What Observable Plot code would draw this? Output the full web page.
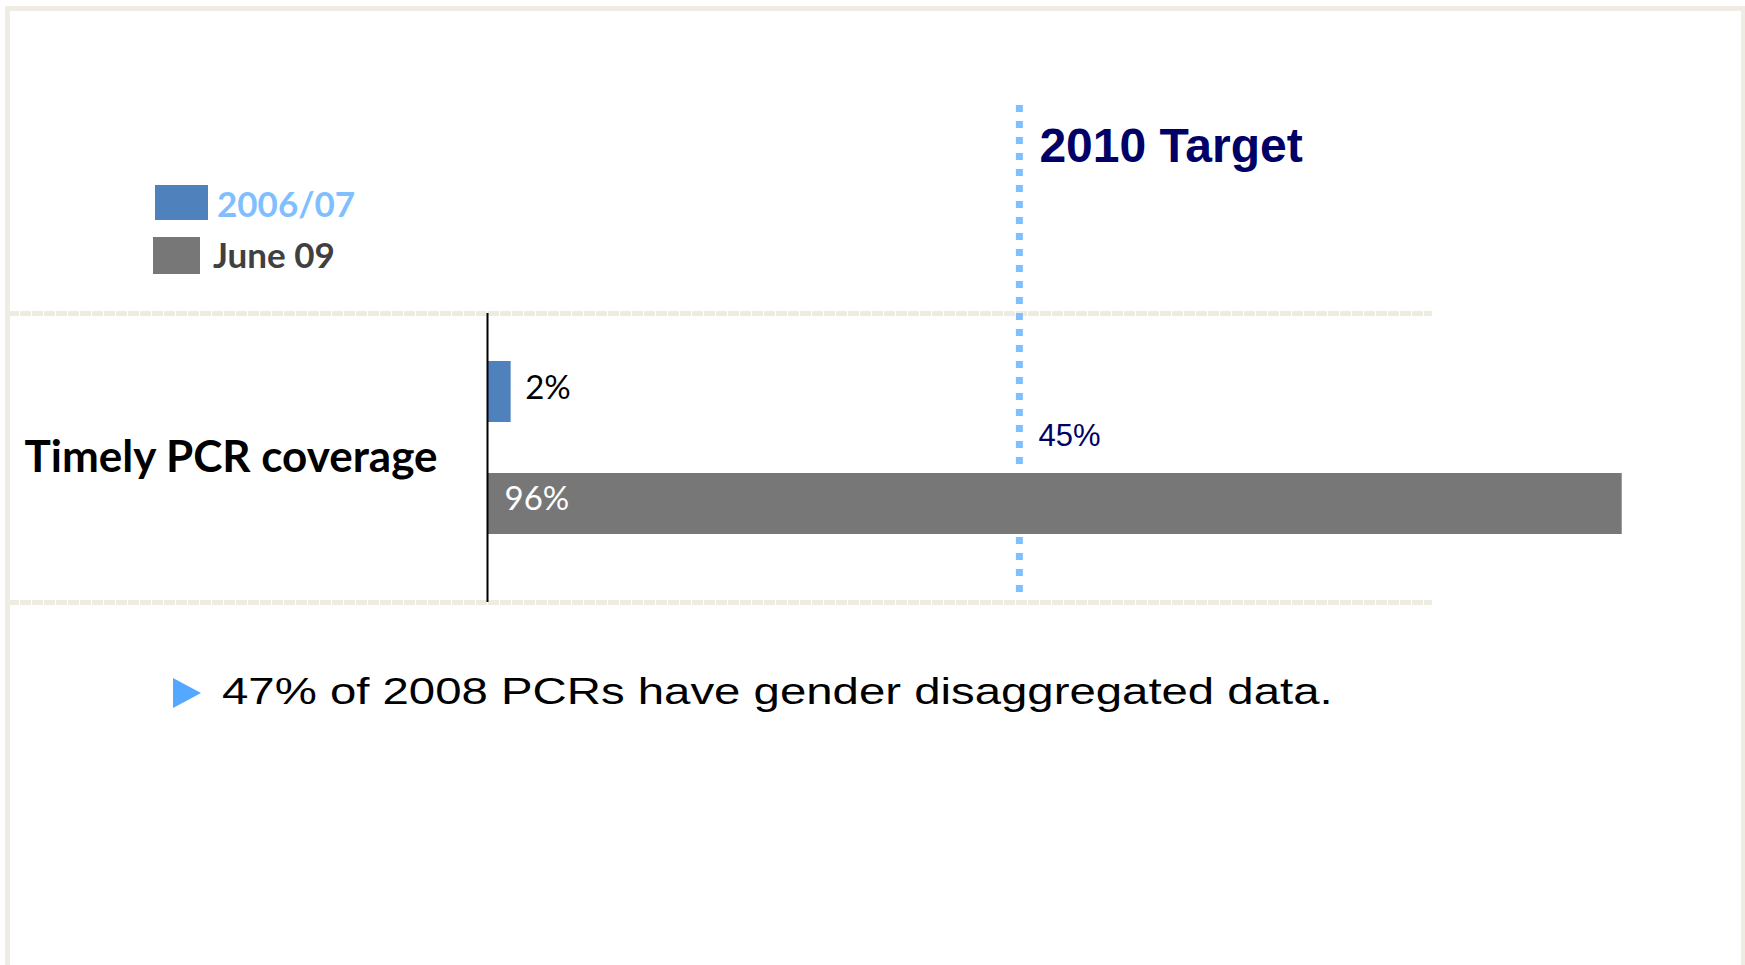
<!DOCTYPE html>
<html>
<head>
<meta charset="utf-8">
<script src="https://cdn.jsdelivr.net/npm/d3@7"></script>
<script src="https://cdn.jsdelivr.net/npm/@observablehq/plot@0.6"></script>
<style>
  html, body { margin: 0; padding: 0; background: #ffffff; }
  body { width: 1745px; height: 965px; overflow: hidden; position: relative; }
  #chart { position: absolute; left: 0; top: 0; }
  #chart svg { background: transparent; max-width: none; }
  .border { position: absolute; left: 5px; top: 6px; width: 1731px; height: 1000px;
            border: 5px solid #efece3; border-right-width: 4px; pointer-events: none; }
  .swatch { position: absolute; }
  .legtext { position: absolute; font-family: Lato, sans-serif; font-weight: 700;
             font-size: 35px; line-height: 35px; white-space: nowrap; }
  .note { position: absolute; left: 222px; top: 674px; font-family: "Liberation Sans", Arial, sans-serif;
          font-size: 36px; line-height: 36px; white-space: nowrap; color: #000;
          transform: scaleX(1.315); transform-origin: left center; }
  .tri { position: absolute; left: 173px; top: 678px; width: 0; height: 0;
         border-left: 28px solid #55a8ff; border-top: 15px solid transparent; border-bottom: 15px solid transparent; }
</style>
</head>
<body>
<div id="chart"></div>
<div class="border"></div>
<div id="legend"></div>
<div class="tri"></div>
<div class="note" id="note"></div>
<script>
// ---- data ----
const categories = ["Timely PCR coverage"];
const series = ["2006/07", "June 09"];
const values = [2, 96];
const targetValues = [45];
const targetLabels = ["2010 Target"];
const noteText = ["47% of 2008 PCRs have gender disaggregated data."];
const seriesColors = ["#4f81bd", "#777777"];
const legendTextColors = ["#80bfff", "#404040"];

const data = series.map((s, i) => ({category: categories[0], series: s, value: values[i]}));

const chart = Plot.plot({
  width: 1745,
  height: 965,
  marginLeft: 487,
  marginRight: 76,
  marginTop: 313,
  marginBottom: 363,
  style: {background: "transparent", overflow: "visible"},
  x: {domain: [0, 100], axis: null},
  y: {domain: series, axis: null, paddingInner: 0.455, paddingOuter: 0.5175, align: 0.414},
  color: {domain: series, range: seriesColors},
  marks: [
    Plot.frame({anchor: "top", stroke: "#eeebe0", strokeWidth: 5, strokeDasharray: "6,6", insetLeft: -477, insetRight: 240}),
    Plot.frame({anchor: "bottom", stroke: "#eeebe0", strokeWidth: 5, strokeDasharray: "6,6", insetLeft: -477, insetRight: 240}),
    Plot.ruleX(targetValues, {x: d => d, stroke: "#80bfff", strokeWidth: 7, strokeDasharray: "7,9", insetTop: -208, insetBottom: 10}),
    Plot.barX(data, {x: "value", y: "series", fill: "series"}),
    Plot.ruleX([0], {stroke: "#000", strokeWidth: 2}),
    Plot.text(categories, {frameAnchor: "left", text: d => d, dx: -50, textAnchor: "end",
      fontFamily: "Lato, sans-serif", fontWeight: 700, fontSize: 44, fill: "#000"}),
    Plot.text(data.filter(d => d.series === series[0]), {x: "value", y: "series", text: d => d.value + "%",
      dx: 14, dy: -4, textAnchor: "start", fontFamily: "Lato, sans-serif", fontSize: 33, fill: "#000"}),
    Plot.text(data.filter(d => d.series === series[1]), {x: () => 0, y: "series", text: d => d.value + "%",
      dx: 17, dy: -5, textAnchor: "start", fontFamily: "Lato, sans-serif", fontSize: 33, fill: "#ffffff"}),
    Plot.text(targetValues, {x: d => d, frameAnchor: "top", text: (d, i) => targetLabels[i], dx: 20, dy: -186,
      textAnchor: "start", fontFamily: "'Liberation Sans', Arial, sans-serif", fontWeight: 700, fontSize: 48, fill: "#000066"}),
    Plot.text(targetValues, {x: d => d, frameAnchor: "top", text: d => d + "%", dx: 19, dy: 110,
      textAnchor: "start", fontFamily: "'Liberation Sans', Arial, sans-serif", fontSize: 31, fill: "#000066"})
  ]
});
document.getElementById("chart").appendChild(chart);

// legend
const legend = document.getElementById("legend");
const swatchBoxes = [[155, 185, 53, 35], [153, 237, 47, 37]];
const textPos = [[217, 186], [213, 237]];
series.forEach((s, i) => {
  const sw = document.createElement("div");
  sw.className = "swatch";
  const [l, t, w, h] = swatchBoxes[i];
  Object.assign(sw.style, {left: l + "px", top: t + "px", width: w + "px", height: h + "px", background: seriesColors[i]});
  legend.appendChild(sw);
  const tx = document.createElement("div");
  tx.className = "legtext";
  tx.textContent = s;
  Object.assign(tx.style, {left: textPos[i][0] + "px", top: textPos[i][1] + "px", color: legendTextColors[i]});
  legend.appendChild(tx);
});
document.getElementById("note").textContent = noteText[0];
</script>
</body>
</html>
